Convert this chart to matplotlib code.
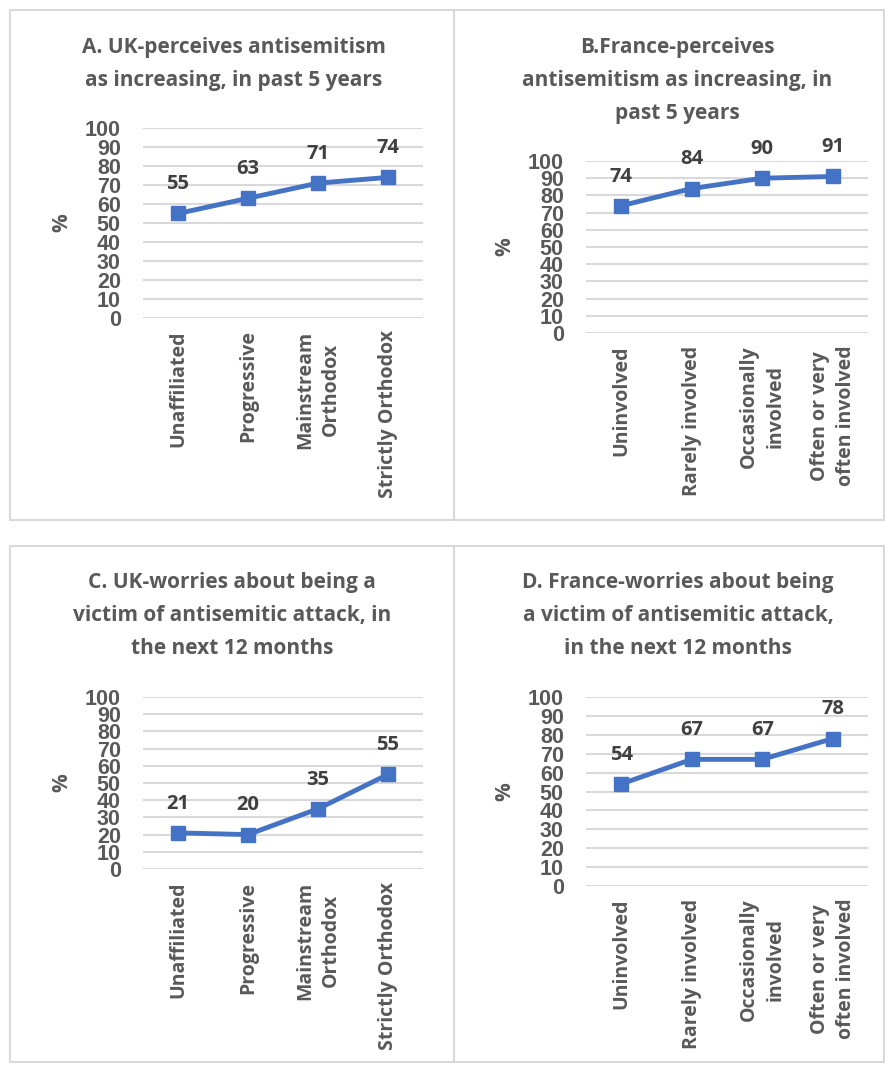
import matplotlib.pyplot as plt
from matplotlib.patches import Rectangle

uk_groups = ["Unaffiliated", "Progressive", "Mainstream\nOrthodox", "Strictly Orthodox"]
fr_groups = ["Uninvolved", "Rarely involved", "Occasionally\ninvolved", "Often or very\noften involved"]

uk_increase = [55, 63, 71, 74]
fr_increase = [74, 84, 90, 91]
uk_worry = [21, 20, 35, 55]
fr_worry = [54, 67, 67, 78]

titles = [
    "A. UK-perceives antisemitism\nas increasing, in past 5 years",
    "B.France-perceives\nantisemitism as increasing, in\npast 5 years",
    "C. UK-worries about being a\nvictim of antisemitic attack, in\nthe next 12 months",
    "D. France-worries about being\na victim of antisemitic attack,\nin the next 12 months",
]
yticks = list(range(0, 101, 10))

BLUE = "#4472C4"
GREY = "#595959"
GRID = "#d9d9d9"
W, H = 885, 1066

text_font = ["Open Sans", "DejaVu Sans"]
tick_font = ["Liberation Sans Narrow", "Liberation Sans", "DejaVu Sans"]

fig = plt.figure(figsize=(W / 100, H / 100), dpi=100)


def px_axes(left, top, right, bottom):
    return fig.add_axes([left / W, 1 - bottom / H, (right - left) / W, (bottom - top) / H])


# panel frames
for (l, t, r, b) in [(10, 10, 454, 520), (454, 10, 884, 520),
                     (10, 546, 454, 1062), (454, 546, 884, 1062)]:
    fig.patches.append(Rectangle((l / W, 1 - b / H), (r - l) / W, (b - t) / H,
                                 transform=fig.transFigure, fill=False,
                                 edgecolor=GRID, linewidth=1.5))

panels = [
    # title centre, title top, axes box, % label x, categories, values
    (234, 37, (143, 128, 423, 318), 62, uk_groups, uk_increase),
    (677, 37, (586, 161, 868, 333), 505, fr_groups, fr_increase),
    (232, 572, (143, 697, 423, 869), 62, uk_groups, uk_worry),
    (678, 572, (586, 697, 868, 886), 505, fr_groups, fr_worry),
]

for title, (tx, ty, box, plx, cats, vals) in zip(titles, panels):
    fig.text(tx / W, 1 - ty / H, title, ha="center", va="top", fontsize=15,
             fontweight="bold", color=GREY, family=text_font, linespacing=1.75)

    ax = px_axes(*box)
    x = list(range(len(cats)))
    ax.plot(x, vals, color=BLUE, linewidth=3.5, marker="s", markersize=10,
            zorder=3, clip_on=False)
    for xi, v in zip(x, vals):
        ax.annotate(str(v), (xi, v), xytext=(0, 21), textcoords="offset points",
                    ha="center", va="center", fontsize=14.5, fontweight="bold",
                    color="#404040", family=text_font)

    ax.set_xlim(-0.5, len(cats) - 0.5)
    ax.set_ylim(0, 100)
    ax.set_yticks(yticks)
    ax.set_yticklabels([str(t) for t in yticks], fontsize=15.5, fontweight="bold",
                       color=GREY, family=tick_font)
    ax.set_xticks(x)
    ax.set_xticklabels(cats, rotation=90, fontsize=14, fontweight="bold",
                       color=GREY, family=text_font, multialignment="center",
                       linespacing=1.4)
    ax.tick_params(axis="both", length=0)
    ax.tick_params(axis="x", pad=9)
    ax.tick_params(axis="y", pad=16)
    for s in ax.spines.values():
        s.set_visible(False)
    ax.grid(axis="y", color=GRID, linewidth=1.5)
    ax.set_axisbelow(True)

    cy = (box[1] + box[3]) / 2
    fig.text(plx / W, 1 - cy / H, "%", rotation=90, ha="center", va="center",
             fontsize=15, fontweight="bold", color=GREY, family=text_font)

fig.savefig("out.png", dpi=100, facecolor="white")
